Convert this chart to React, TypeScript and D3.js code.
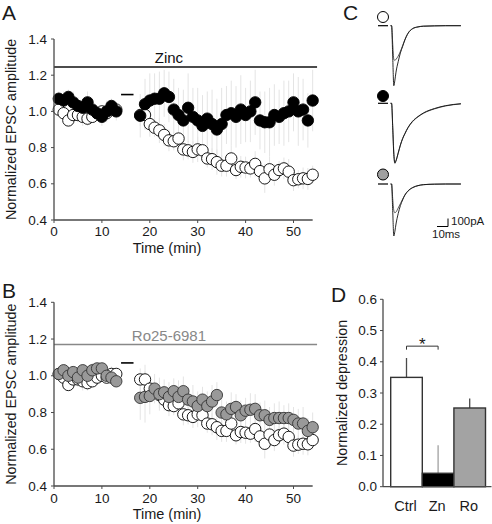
import React from "react";
import * as d3 from "d3";

// ---------- DATA ----------
const preTimes = d3.range(1, 14); // min
const postTimes = d3.range(18, 55); // min

const controlPre = [1.01, 0.99, 0.95, 0.98, 0.98, 0.97, 0.96, 0.97, 0.99, 1.0, 0.99, 1.01, 1.01];
const controlPost = [0.98, 0.98, 0.93, 0.91, 0.895, 0.87, 0.84, 0.835, 0.85, 0.79, 0.785, 0.776, 0.79, 0.785, 0.74, 0.736, 0.72, 0.7, 0.7, 0.74, 0.676, 0.694, 0.69, 0.685, 0.71, 0.67, 0.63, 0.68, 0.65, 0.676, 0.685, 0.667, 0.62, 0.625, 0.63, 0.627, 0.65];
const controlPreErr = [0.03, 0.04, 0.03, 0.03, 0.04, 0.05, 0.04, 0.03, 0.04, 0.03, 0.03, 0.04, 0.03];
const controlPostErr = [0.06, 0.08, 0.07, 0.05, 0.07, 0.06, 0.06, 0.05, 0.07, 0.06, 0.05, 0.06, 0.07, 0.06, 0.05, 0.06, 0.07, 0.06, 0.06, 0.07, 0.05, 0.06, 0.06, 0.05, 0.07, 0.06, 0.08, 0.07, 0.06, 0.05, 0.06, 0.07, 0.06, 0.05, 0.06, 0.06, 0.05];

const zincPre = [1.07, 1.06, 1.08, 1.05, 1.03, 1.02, 1.05, 1.01, 0.99, 0.97, 1.0, 1.03, 1.0];
const zincPost = [0.976, 1.04, 1.06, 1.07, 1.07, 1.1, 1.08, 1.01, 0.98, 0.95, 1.02, 0.97, 0.95, 0.92, 0.96, 0.93, 0.9, 0.93, 0.98, 0.99, 0.97, 1.01, 0.98, 1.0, 1.05, 0.95, 0.94, 0.94, 0.98, 0.97, 0.99, 1.0, 1.05, 1.0, 1.01, 0.95, 1.06];
const zincPreErr = [0.04, 0.05, 0.04, 0.06, 0.05, 0.04, 0.06, 0.05, 0.04, 0.05, 0.06, 0.04, 0.05];
const zincPostErr = [0.12, 0.14, 0.15, 0.14, 0.15, 0.13, 0.14, 0.17, 0.15, 0.17, 0.19, 0.16, 0.18, 0.17, 0.15, 0.19, 0.17, 0.2, 0.16, 0.18, 0.17, 0.19, 0.15, 0.17, 0.18, 0.16, 0.17, 0.19, 0.17, 0.15, 0.18, 0.17, 0.16, 0.19, 0.17, 0.15, 0.17];

const roPre = [1.01, 1.03, 1.0, 1.02, 0.99, 1.03, 1.0, 1.03, 1.04, 1.04, 1.0, 0.99, 0.97];
const roPost = [0.88, 0.885, 0.89, 0.93, 0.9, 0.91, 0.885, 0.916, 0.885, 0.916, 0.87, 0.86, 0.835, 0.87, 0.835, 0.86, 0.895, 0.8, 0.79, 0.82, 0.83, 0.785, 0.81, 0.815, 0.82, 0.785, 0.785, 0.76, 0.77, 0.77, 0.77, 0.77, 0.76, 0.74, 0.74, 0.7, 0.72];
const roPreErr = [0.03, 0.03, 0.04, 0.03, 0.04, 0.03, 0.03, 0.04, 0.03, 0.03, 0.04, 0.03, 0.03];
const roPostErr = [0.12, 0.14, 0.1, 0.08, 0.09, 0.07, 0.08, 0.07, 0.09, 0.08, 0.07, 0.09, 0.08, 0.07, 0.08, 0.09, 0.07, 0.08, 0.07, 0.09, 0.07, 0.08, 0.07, 0.09, 0.08, 0.07, 0.08, 0.07, 0.08, 0.09, 0.07, 0.08, 0.07, 0.08, 0.09, 0.07, 0.08];

const xTicks = [0, 10, 20, 30, 40, 50];
const yTicks = [0.4, 0.6, 0.8, 1.0, 1.2, 1.4];
const zincBarLevel = 1.245;
const roBarLevel = 1.17;
const zincStimLevel = 1.093;
const roStimLevel = 1.07;
const stimWindow = [14, 16.6];

// EPSC traces (ms, pA)
const traceTime = [0, 1, 2, 3, 4, 5, 7, 9, 11, 13, 16, 20, 25, 30, 40, 50, 64];
const ctrlBefore = [0, 0, -380, -750, -680, -580, -450, -340, -260, -180, -95, -38, -15, -6, -2, 0, 0];
const ctrlAfter = [0, 0, -220, -420, -435, -420, -380, -320, -250, -178, -92, -37, -15, -6, -2, 0, 0];
const zincBefore = [0, 0, -300, -640, -750, -720, -620, -520, -440, -380, -300, -225, -165, -120, -65, -30, -5];
const zincAfter = [0, 0, -280, -610, -740, -715, -625, -525, -445, -385, -305, -230, -170, -125, -70, -33, -8];
const roBefore = [0, 0, -330, -650, -590, -500, -370, -270, -200, -140, -85, -45, -20, -8, -2, 0, 0];
const roAfter = [0, 0, -180, -330, -360, -350, -300, -245, -190, -140, -88, -47, -21, -9, -2, 0, 0];

// Bar chart
const barCats = ["Ctrl", "Zn", "Ro"];
const barValues = [0.35, 0.043, 0.252];
const barErrs = [0.062, 0.09, 0.03];
const barTicks = [0, 0.1, 0.2, 0.3, 0.4, 0.5, 0.6];
const sigLevel = 0.45;

// ---------- STYLE ----------
const FONT = "'Liberation Sans', Arial, Helvetica, sans-serif";
const AXIS = "#4a4a4a";
const TXT = "#1a1a1a";
const ERR = "#e4e4e4";

type Series = { t: number[]; v: number[]; e: number[] };

function TimeCourse(props: {
  yTop: number;
  yBottom: number;
  drug: Series;
  ctrl: Series;
  drugFill: string;
  drugStroke: string;
  drugLabel: string;
  drugLineColor: string;
  drugLevel: number;
  stimLevel: number;
  tickBaseline: number;
  titleBaseline: number;
  letter: string;
  letterY: number;
}) {
  const x = d3.scaleLinear().domain([0, 50]).range([54, 293.5]);
  const y = d3.scaleLinear().domain([0.4, 1.4]).range([props.yBottom, props.yTop]);
  const r = 5.7;
  const errLines = (s: Series, key: string) =>
    s.t.map((t, i) => (
      <line key={key + i} x1={x(t)} x2={x(t)} y1={y(s.v[i] - s.e[i])} y2={y(s.v[i] + s.e[i])} stroke={ERR} strokeWidth={1} />
    ));
  const yMid = (props.yTop + props.yBottom) / 2;
  return (
    <g fontFamily={FONT} fill={TXT}>
      <text x={2} y={props.letterY} fontSize={21}>{props.letter}</text>
      {errLines(props.ctrl, "ce")}
      {errLines(props.drug, "de")}
      <line x1={x(0)} x2={x(54.5) + 2} y1={y(props.drugLevel)} y2={y(props.drugLevel)} stroke={props.drugLineColor} strokeWidth={1.6} />
      <text x={x(24)} y={y(props.drugLevel) - 4} fontSize={15} textAnchor="middle" fill={props.drugLineColor}>{props.drugLabel}</text>
      <line x1={x(stimWindow[0])} x2={x(stimWindow[1])} y1={y(props.stimLevel)} y2={y(props.stimLevel)} stroke="#000" strokeWidth={1.6} />
      {props.ctrl.t.map((t, i) => (
        <circle key={"c" + i} cx={x(t)} cy={y(props.ctrl.v[i])} r={r} fill="#fff" stroke="#000" strokeWidth={0.9} />
      ))}
      {props.drug.t.map((t, i) => (
        <circle key={"d" + i} cx={x(t)} cy={y(props.drug.v[i])} r={r} fill={props.drugFill} stroke={props.drugStroke} strokeWidth={0.9} />
      ))}
      <line x1={54} x2={54} y1={y(0.4)} y2={y(1.4)} stroke={AXIS} strokeWidth={1.3} />
      <line x1={54} x2={x(54)} y1={y(0.4)} y2={y(0.4)} stroke={AXIS} strokeWidth={1.3} />
      {yTicks.map((v) => (
        <g key={"yt" + v}>
          <line x1={51} x2={54} y1={y(v)} y2={y(v)} stroke={AXIS} strokeWidth={1} />
          <text x={47} y={y(v) + 4.6} fontSize={13.5} textAnchor="end">{d3.format(".1f")(v)}</text>
        </g>
      ))}
      {xTicks.map((v) => (
        <g key={"xt" + v}>
          <line x1={x(v)} x2={x(v)} y1={y(0.4)} y2={y(0.4) + 3} stroke={AXIS} strokeWidth={1} />
          <text x={x(v)} y={props.tickBaseline} fontSize={13.5} textAnchor="middle">{v}</text>
        </g>
      ))}
      <text x={167} y={props.titleBaseline} fontSize={14.5} textAnchor="middle">Time (min)</text>
      <text transform={`translate(16,${yMid}) rotate(-90)`} fontSize={14.3} textAnchor="middle">Normalized EPSC amplitude</text>
    </g>
  );
}

function Traces() {
  const tx = d3.scaleLinear().domain([0, 64]).range([390.5, 460.9]);
  const rows = [
    { base: 25.7, a: ctrlBefore, b: ctrlAfter, fill: "#fff", cy: 17 },
    { base: 103.3, a: zincBefore, b: zincAfter, fill: "#000", cy: 96 },
    { base: 184, a: roBefore, b: roAfter, fill: "#a0a0a0", cy: 174.5 },
  ];
  const pa = 0.08; // px per pA
  return (
    <g fontFamily={FONT} fill={TXT}>
      <text x={343} y={20} fontSize={21}>C</text>
      {rows.map((row, k) => {
        const ty = d3.scaleLinear().domain([-800, 0]).range([row.base + 800 * pa, row.base]);
        const line = d3
          .line<number>()
          .x((_, i) => tx(traceTime[i]))
          .y((d) => ty(d))
          .curve(d3.curveMonotoneX);
        return (
          <g key={"tr" + k}>
            <circle cx={383} cy={row.cy} r={5.5} fill={row.fill} stroke="#000" strokeWidth={1} />
            <line x1={378} x2={388} y1={row.base} y2={row.base} stroke="#000" strokeWidth={1.2} />
            <path d={line(row.b) || ""} fill="none" stroke="#333" strokeWidth={0.8} />
            <path d={line(row.a) || ""} fill="none" stroke="#111" strokeWidth={0.9} />
          </g>
        );
      })}
      {(() => {
        const x0 = 448;
        const yb = 226.5;
        const w = tx(10) - tx(0);
        const h = 100 * pa;
        return (
          <g>
            <line x1={x0} x2={x0} y1={yb - h} y2={yb} stroke="#000" strokeWidth={1} />
            <line x1={x0 - w} x2={x0} y1={yb} y2={yb} stroke="#000" strokeWidth={1} />
            <text x={451} y={225} fontSize={11.5}>100pA</text>
            <text x={432} y={238} fontSize={11.5}>10ms</text>
          </g>
        );
      })()}
    </g>
  );
}

function Bars() {
  const x = d3.scaleBand().domain(barCats).range([390.7, 485.5]).padding(0);
  const y = d3.scaleLinear().domain([0, 0.6]).range([486.7, 299.3]);
  const fills = ["#ffffff", "#000000", "#a3a3a3"];
  const errColors = ["#4a4a4a", "#a0a0a0", "#4a4a4a"];
  const bw = x.bandwidth();
  const cx = (c: string) => (x(c) as number) + bw / 2;
  const bracketY = y(sigLevel);
  return (
    <g fontFamily={FONT} fill={TXT}>
      <text x={331} y={302} fontSize={21}>D</text>
      {barCats.map((c, i) => (
        <line key={"be" + i} x1={cx(c)} x2={cx(c)} y1={y(barValues[i])} y2={y(barValues[i] + barErrs[i])} stroke={errColors[i]} strokeWidth={1.3} />
      ))}
      {barCats.map((c, i) => (
        <rect key={"b" + i} x={x(c)} y={y(barValues[i])} width={bw} height={y(0) - y(barValues[i])} fill={fills[i]} stroke="#333" strokeWidth={1.4} />
      ))}
      <path d={`M${cx("Ctrl")},${bracketY + 3.5}V${bracketY}H${cx("Zn")}V${bracketY + 3.5}`} fill="none" stroke="#333" strokeWidth={1} />
      <text x={(cx("Ctrl") + cx("Zn")) / 2} y={bracketY + 4} fontSize={17} textAnchor="middle">*</text>
      <line x1={383} x2={383} y1={y(0)} y2={y(0.6)} stroke={AXIS} strokeWidth={1.3} />
      <line x1={383} x2={491.5} y1={y(0)} y2={y(0)} stroke={AXIS} strokeWidth={1.3} />
      {barTicks.map((v) => (
        <g key={"bt" + v}>
          <line x1={380} x2={383} y1={y(v)} y2={y(v)} stroke={AXIS} strokeWidth={1} />
          <text x={377} y={y(v) + 4.6} fontSize={13.5} textAnchor="end">{d3.format(".1f")(v)}</text>
        </g>
      ))}
      {barCats.map((c) => (
        <text key={"bl" + c} x={cx(c) - 1} y={511} fontSize={14.5} textAnchor="middle">{c}</text>
      ))}
      <text transform={`translate(347,393) rotate(-90)`} fontSize={14.3} textAnchor="middle">Normalized depression</text>
    </g>
  );
}

export default function App() {
  const ctrl: Series = {
    t: [...preTimes, ...postTimes],
    v: [...controlPre, ...controlPost],
    e: [...controlPreErr, ...controlPostErr],
  };
  const zinc: Series = {
    t: [...preTimes, ...postTimes],
    v: [...zincPre, ...zincPost],
    e: [...zincPreErr, ...zincPostErr],
  };
  const ro: Series = {
    t: [...preTimes, ...postTimes],
    v: [...roPre, ...roPost],
    e: [...roPreErr, ...roPostErr],
  };
  return (
    <svg width={492} height={524} style={{ position: "absolute", left: 0, top: 0, background: "#fff" }}>
      <rect width={492} height={524} fill="#fff" />
      <TimeCourse yTop={39} yBottom={220} drug={zinc} ctrl={ctrl} drugFill="#000" drugStroke="#000" drugLabel="Zinc" drugLineColor="#111" drugLevel={zincBarLevel} stimLevel={zincStimLevel} tickBaseline={236} titleBaseline={253} letter="A" letterY={20} />
      <TimeCourse yTop={302.3} yBottom={486} drug={ro} ctrl={ctrl} drugFill="#999" drugStroke="#333" drugLabel="Ro25-6981" drugLineColor="#888" drugLevel={roBarLevel} stimLevel={roStimLevel} tickBaseline={503} titleBaseline={519} letter="B" letterY={298} />
      <Traces />
      <Bars />
    </svg>
  );
}
